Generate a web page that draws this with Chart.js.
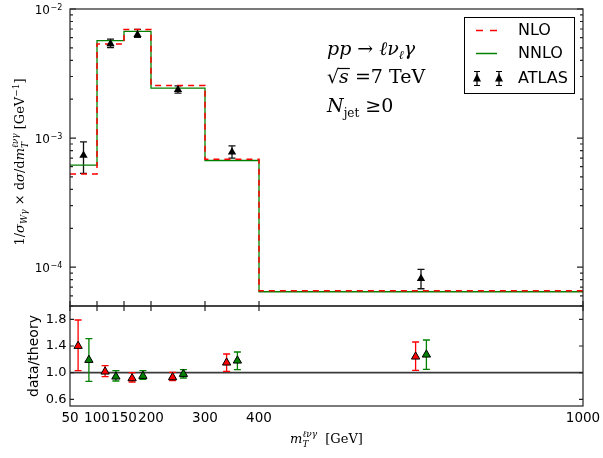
<!DOCTYPE html>
<html>
<head>
<meta charset="utf-8">
<script src="https://cdn.jsdelivr.net/npm/chart.js@4.4.1/dist/chart.umd.min.js"></script>
<style>
  html, body { margin: 0; padding: 0; background: #fff; }
  #wrap { position: relative; width: 603px; height: 458px; }
  canvas { position: absolute; left: 0; top: 0; }
</style>
</head>
<body>
<div id="wrap">
  <canvas id="main" width="603" height="458"></canvas>
  <canvas id="ratio" width="603" height="458"></canvas>
</div>
<script>
/* DATA */
const binEdges = [50, 100, 150, 200, 300, 400, 1000];
const nloVals = [5.26e-4, 5.35e-3, 6.95e-3, 2.55e-3, 6.85e-4, 6.55e-5];
const nnloVals = [6.18e-4, 5.68e-3, 6.72e-3, 2.44e-3, 6.7e-4, 6.45e-5];

const atlasX = [75, 125, 175, 250, 350, 700];
const atlasVals = [7.35e-4, 5.38e-3, 6.32e-3, 2.37e-3, 7.8e-4, 8.15e-5];
const atlasHi = [9.35e-4, 5.85e-3, 6.95e-3, 2.54e-3, 8.7e-4, 9.6e-5];
const atlasLo = [5.32e-4, 5.03e-3, 6.02e-3, 2.23e-3, 7.0e-4, 6.8e-5];

const ratioNloX = [65, 115, 165, 240, 340, 690];
const ratioNlo = [1.40, 1.015, 0.915, 0.93, 1.15, 1.24];
const ratioNloHi = [1.79, 1.105, 1.0, 1.005, 1.28, 1.46];
const ratioNloLo = [1.03, 0.94, 0.86, 0.88, 1.02, 1.035];

const ratioNnloX = [85, 135, 185, 260, 360, 710];
const ratioNnlo = [1.19, 0.94, 0.95, 0.98, 1.18, 1.27];
const ratioNnloHi = [1.51, 1.03, 1.03, 1.045, 1.31, 1.49];
const ratioNnloLo = [0.87, 0.875, 0.90, 0.92, 1.045, 1.05];

const xTicks = [50, 100, 150, 200, 300, 400, 1000];
const ratioTicks = [0.6, 1.0, 1.4, 1.8];
const decades = [-4, -3, -2];

const SANS = '"DejaVu Sans", sans-serif';
const SERIF = '"DejaVu Serif", "Liberation Serif", serif';
const FRAME = '#222';

/* rich text: parts drawn one after another, "stack" puts a part over the previous one */
function layoutRich(ctx, parts) {
  let cx = 0, prevStart = 0, prevW = 0;
  const out = [];
  for (const p of parts) {
    ctx.font = p.f;
    const w = ctx.measureText(p.t).width;
    let sx;
    if (p.stack) { sx = prevStart; cx = prevStart + Math.max(prevW, w); }
    else { sx = cx; cx += w; }
    out.push({ p, sx, w });
    prevStart = sx; prevW = w;
  }
  return { out, width: cx };
}
function drawRich(ctx, parts, x, y, align) {
  const L = layoutRich(ctx, parts);
  const x0 = align === 'center' ? x - L.width / 2 : align === 'right' ? x - L.width : x;
  ctx.textAlign = 'left';
  ctx.textBaseline = 'alphabetic';
  for (const o of L.out) {
    ctx.font = o.p.f;
    ctx.fillText(o.p.t, x0 + o.sx, y + (o.p.dy || 0));
  }
  return { x0, out: L.out };
}

function histPoints(vals) {
  return binEdges.map((e, i) => ({ x: e, y: vals[Math.min(i, vals.length - 1)] }));
}
function pts(xs, ys) {
  return xs.map((x, i) => ({ x, y: ys[i] }));
}

const errorBars = {
  id: 'errorBars',
  beforeDatasetsDraw(chart) {
    const ctx = chart.ctx, xs = chart.scales.x, ys = chart.scales.y;
    const opts = chart.options.plugins.errorBars || {};
    ctx.save();
    if (opts.unityLine) {
      const yy = ys.getPixelForValue(1.0);
      ctx.strokeStyle = '#3a3a3a';
      ctx.lineWidth = 1.6;
      ctx.beginPath();
      ctx.moveTo(chart.chartArea.left, yy);
      ctx.lineTo(chart.chartArea.right, yy);
      ctx.stroke();
    }
    chart.data.datasets.forEach(ds => {
      if (!ds.errHi) return;
      ctx.strokeStyle = ds.errColor;
      ctx.lineWidth = 1.3;
      ds.data.forEach((d, i) => {
        const x = xs.getPixelForValue(d.x);
        const y1 = ys.getPixelForValue(ds.errHi[i]);
        const y2 = ys.getPixelForValue(ds.errLo[i]);
        ctx.beginPath();
        ctx.moveTo(x, y1); ctx.lineTo(x, y2);
        ctx.moveTo(x - 3.5, y1); ctx.lineTo(x + 3.5, y1);
        ctx.moveTo(x - 3.5, y2); ctx.lineTo(x + 3.5, y2);
        ctx.stroke();
      });
    });
    ctx.restore();
  }
};

const mainDecor = {
  id: 'mainDecor',
  afterDraw(chart) {
    const ctx = chart.ctx, a = chart.chartArea;
    const xs = chart.scales.x, ys = chart.scales.y;
    ctx.save();
    ctx.strokeStyle = FRAME;
    ctx.lineWidth = 1.2;
    ctx.strokeRect(a.left, a.top, a.right - a.left, a.bottom - a.top);
    // log ticks on both sides
    ctx.beginPath();
    for (let d = -5; d <= -2; d++) {
      for (let m = 1; m <= 9; m++) {
        const v = m * Math.pow(10, d);
        if (v < ys.min * 0.999 || v > ys.max * 1.001) continue;
        const y = ys.getPixelForValue(v);
        const len = m === 1 ? 6 : 3;
        ctx.moveTo(a.left, y); ctx.lineTo(a.left + len, y);
        ctx.moveTo(a.right, y); ctx.lineTo(a.right - len, y);
      }
    }
    xTicks.forEach(v => {
      const x = xs.getPixelForValue(v);
      ctx.moveTo(x, a.bottom); ctx.lineTo(x, a.bottom - 5);
    });
    ctx.stroke();
    // y tick labels 10^n
    ctx.fillStyle = '#000';
    decades.forEach(d => {
      const y = ys.getPixelForValue(Math.pow(10, d));
      ctx.font = `12px ${SANS}`;
      ctx.textAlign = 'right';
      ctx.textBaseline = 'alphabetic';
      ctx.fillText('10', 50, y + 4.5);
      ctx.font = `8px ${SANS}`;
      ctx.textAlign = 'left';
      ctx.fillText('\u2212' + (-d), 50.5, y + 0.5);
    });
    // y axis title
    ctx.save();
    ctx.translate(24, 162);
    ctx.rotate(-Math.PI / 2);
    const it = `italic 13px ${SERIF}`, rm = `13px ${SERIF}`;
    const sit = `italic 9px ${SERIF}`, srm = `9px ${SERIF}`;
    drawRich(ctx, [
      { t: '1/', f: rm }, { t: '\u03c3', f: it }, { t: 'W\u03b3', f: sit, dy: 3 },
      { t: ' \u00d7 d', f: rm }, { t: '\u03c3', f: it }, { t: '/d', f: rm },
      { t: 'm', f: it }, { t: 'T', f: sit, dy: 3.5 }, { t: '\u2113\u03bd\u03b3', f: sit, dy: -6, stack: true },
      { t: ' [GeV', f: rm }, { t: '\u22121', f: srm, dy: -5 }, { t: ']', f: rm }
    ], 0, 0, 'center');
    ctx.restore();
    // process annotation
    const big = `italic 19px ${SERIF}`, bigr = `19px ${SERIF}`;
    drawRich(ctx, [
      { t: 'pp', f: big }, { t: ' \u2192 ', f: bigr }, { t: '\u2113\u03bd', f: big },
      { t: '\u2113', f: `italic 12px ${SERIF}`, dy: 4 }, { t: '\u03b3', f: big }
    ], 327, 55, 'left');
    const r = drawRich(ctx, [
      { t: '\u221a', f: bigr }, { t: 's', f: big }, { t: ' =7 TeV', f: bigr }
    ], 327, 83, 'left');
    const sx = r.x0 + r.out[1].sx;
    ctx.strokeStyle = '#000';
    ctx.lineWidth = 1.2;
    ctx.beginPath();
    ctx.moveTo(sx - 1, 68.5); ctx.lineTo(sx + r.out[1].w + 1, 68.5);
    ctx.stroke();
    drawRich(ctx, [
      { t: 'N', f: big }, { t: 'jet', f: `12px ${SERIF}`, dy: 5 }, { t: ' \u22650', f: bigr }
    ], 327, 112, 'left');
    // legend
    ctx.fillStyle = '#fff';
    ctx.fillRect(464.5, 17.5, 110, 76);
    ctx.strokeStyle = '#000';
    ctx.lineWidth = 1;
    ctx.strokeRect(464.5, 17.5, 110, 76);
    ctx.strokeStyle = '#ff0000';
    ctx.lineWidth = 1.5;
    ctx.beginPath();
    ctx.moveTo(476, 30.5); ctx.lineTo(483, 30.5);
    ctx.moveTo(490, 30.5); ctx.lineTo(497, 30.5);
    ctx.stroke();
    ctx.strokeStyle = '#008000';
    ctx.beginPath();
    ctx.moveTo(476, 53.5); ctx.lineTo(497, 53.5);
    ctx.stroke();
    [477, 499].forEach(x => {
      ctx.strokeStyle = '#000';
      ctx.lineWidth = 1.2;
      ctx.beginPath();
      ctx.moveTo(x, 71.5); ctx.lineTo(x, 85.5);
      ctx.moveTo(x - 3, 71.5); ctx.lineTo(x + 3, 71.5);
      ctx.moveTo(x - 3, 85.5); ctx.lineTo(x + 3, 85.5);
      ctx.stroke();
      ctx.fillStyle = '#000';
      ctx.beginPath();
      ctx.moveTo(x, 73.5); ctx.lineTo(x - 4, 81.5); ctx.lineTo(x + 4, 81.5);
      ctx.closePath();
      ctx.fill();
    });
    ctx.fillStyle = '#000';
    ctx.font = `16px ${SANS}`;
    ctx.textAlign = 'left';
    ctx.textBaseline = 'middle';
    ctx.fillText('NLO', 518, 31);
    ctx.fillText('NNLO', 518, 54);
    ctx.fillText('ATLAS', 518, 79);
    ctx.restore();
  }
};

const ratioDecor = {
  id: 'ratioDecor',
  afterDraw(chart) {
    const ctx = chart.ctx, a = chart.chartArea;
    const xs = chart.scales.x, ys = chart.scales.y;
    ctx.save();
    ctx.strokeStyle = FRAME;
    ctx.lineWidth = 1.2;
    ctx.strokeRect(a.left, a.top, a.right - a.left, a.bottom - a.top);
    ctx.beginPath();
    ratioTicks.forEach(v => {
      const y = ys.getPixelForValue(v);
      ctx.moveTo(a.left, y); ctx.lineTo(a.left + 4, y);
      ctx.moveTo(a.right, y); ctx.lineTo(a.right - 4, y);
    });
    xTicks.forEach(v => {
      const x = xs.getPixelForValue(v);
      ctx.moveTo(x, a.top); ctx.lineTo(x, a.top + 5);
    });
    ctx.stroke();
    ctx.fillStyle = '#000';
    ctx.font = `13px ${SANS}`;
    ctx.textAlign = 'right';
    ctx.textBaseline = 'middle';
    ratioTicks.forEach(v => ctx.fillText(v.toFixed(1), 66.5, ys.getPixelForValue(v)));
    ctx.font = `13.5px ${SANS}`;
    ctx.textAlign = 'center';
    ctx.textBaseline = 'alphabetic';
    xTicks.forEach(v => ctx.fillText(String(v), xs.getPixelForValue(v), 421.5));
    // axis titles
    ctx.save();
    ctx.translate(38, 356);
    ctx.rotate(-Math.PI / 2);
    ctx.font = `14px ${SANS}`;
    ctx.textAlign = 'center';
    ctx.fillText('data/theory', 0, 0);
    ctx.restore();
    const it = `italic 13px ${SERIF}`, rm = `13px ${SERIF}`, sit = `italic 9px ${SERIF}`;
    drawRich(ctx, [
      { t: 'm', f: it }, { t: 'T', f: sit, dy: 3.5 }, { t: '\u2113\u03bd\u03b3', f: sit, dy: -6, stack: true },
      { t: '  [GeV]', f: rm }
    ], (a.left + a.right) / 2, 443, 'center');
    ctx.restore();
  }
};

const xScale = { type: 'linear', min: 50, max: 1000, display: false };

new Chart(document.getElementById('main'), {
  type: 'line',
  data: {
    datasets: [
      {
        label: 'ATLAS', type: 'scatter', data: pts(atlasX, atlasVals),
        errHi: atlasHi, errLo: atlasLo, errColor: '#111',
        pointStyle: 'triangle', pointRadius: 4.8, backgroundColor: '#000', borderColor: '#000', borderWidth: 0
      },
      {
        label: 'NLO', data: histPoints(nloVals), stepped: true,
        borderColor: '#ff0000', borderWidth: 1.5, borderDash: [6, 5], pointRadius: 0, fill: false
      },
      {
        label: 'NNLO', data: histPoints(nnloVals), stepped: true,
        borderColor: '#008000', borderWidth: 1.3, pointRadius: 0, fill: false
      }
    ]
  },
  options: {
    responsive: false,
    animation: false,
    layout: { padding: { left: 70, top: 9, right: 20, bottom: 152 } },
    scales: {
      x: xScale,
      y: { type: 'logarithmic', min: 5e-5, max: 1e-2, display: false }
    },
    plugins: { legend: { display: false }, tooltip: { enabled: false }, errorBars: {} }
  },
  plugins: [errorBars, mainDecor]
});

new Chart(document.getElementById('ratio'), {
  type: 'scatter',
  data: {
    datasets: [
      {
        label: 'data/NLO', data: pts(ratioNloX, ratioNlo),
        errHi: ratioNloHi, errLo: ratioNloLo, errColor: '#ff0000',
        pointStyle: 'triangle', pointRadius: 4.8, backgroundColor: '#ff0000', borderColor: '#000', borderWidth: 1
      },
      {
        label: 'data/NNLO', data: pts(ratioNnloX, ratioNnlo),
        errHi: ratioNnloHi, errLo: ratioNnloLo, errColor: '#008000',
        pointStyle: 'triangle', pointRadius: 4.8, backgroundColor: '#008000', borderColor: '#000', borderWidth: 1
      }
    ]
  },
  options: {
    responsive: false,
    animation: false,
    layout: { padding: { left: 70, top: 306, right: 20, bottom: 52 } },
    scales: {
      x: xScale,
      y: { type: 'linear', min: 0.5, max: 2.0, display: false }
    },
    plugins: { legend: { display: false }, tooltip: { enabled: false }, errorBars: { unityLine: true } }
  },
  plugins: [errorBars, ratioDecor]
});
</script>
</body>
</html>
